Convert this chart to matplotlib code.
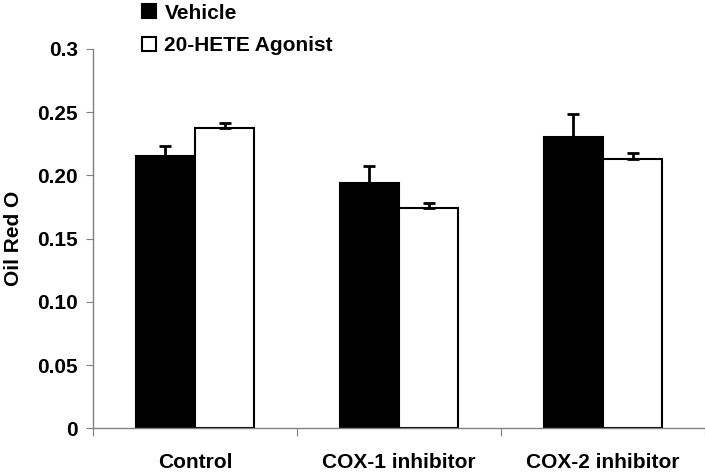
import numpy as np
import matplotlib
matplotlib.use("Agg")
import matplotlib.pyplot as plt

plt.rcParams['font.family'] = ['Liberation Sans', 'DejaVu Sans']
plt.rcParams['font.weight'] = 'bold'

groups = ['Control', 'COX-1 inhibitor', 'COX-2 inhibitor']
series = ['Vehicle', '20-HETE Agonist']
vehicle = [0.215, 0.194, 0.2305]
vehicle_err = [0.0084, 0.0135, 0.0184]
agonist = [0.2376, 0.1743, 0.2131]
agonist_err = [0.0037, 0.0042, 0.0049]
yticks = [0, 0.05, 0.10, 0.15, 0.20, 0.25, 0.3]
ytick_labels = ['0', '0.05', '0.10', '0.15', '0.20', '0.25', '0.3']

fig = plt.figure(figsize=(7.05, 4.73), dpi=100)
ax = fig.add_axes([0.132, 0.0945, 0.868, 0.802])

x = np.arange(len(groups)) + 0.5
w = 0.29
err_kw = dict(ecolor='black', elinewidth=2, capsize=4, capthick=2)

ax.bar(x - w / 2, vehicle, w, color='black', edgecolor='black', linewidth=1.5,
       yerr=[np.zeros(3), vehicle_err], error_kw=err_kw, label=series[0])
ax.bar(x + w / 2, agonist, w, color='white', edgecolor='black', linewidth=1.5,
       yerr=[np.zeros(3), agonist_err], error_kw=err_kw, label=series[1])

ax.set_xlim(0, 3)
ax.set_ylim(0, 0.3)
ax.set_yticks(yticks)
ax.set_yticklabels(ytick_labels, fontsize=15, fontweight='bold')
ax.set_xticks([0, 1, 2, 3])
ax.set_xticklabels([])
ax.set_xticks(x, minor=True)
ax.set_xticklabels(groups, minor=True, fontsize=15, fontweight='bold')
ax.tick_params(axis='x', which='minor', length=0, pad=18)
ax.tick_params(axis='x', which='major', length=6, color='#808080', direction='out')
ax.tick_params(axis='y', length=5, color='#808080', direction='out', pad=6)

for s in ['top', 'right']:
    ax.spines[s].set_visible(False)
for s in ['left', 'bottom']:
    ax.spines[s].set_color('#808080')
    ax.spines[s].set_linewidth(1.0)

ax.set_ylabel('Oil Red O', fontsize=15, fontweight='bold', labelpad=10)

fig.legend(loc='upper left', bbox_to_anchor=(0.175, 1.032), frameon=False,
           prop={'size': 15, 'weight': 'bold'}, handlelength=0.67, handleheight=0.67,
           handletextpad=0.4, labelspacing=0.65)

fig.savefig('out.png', dpi=100)
